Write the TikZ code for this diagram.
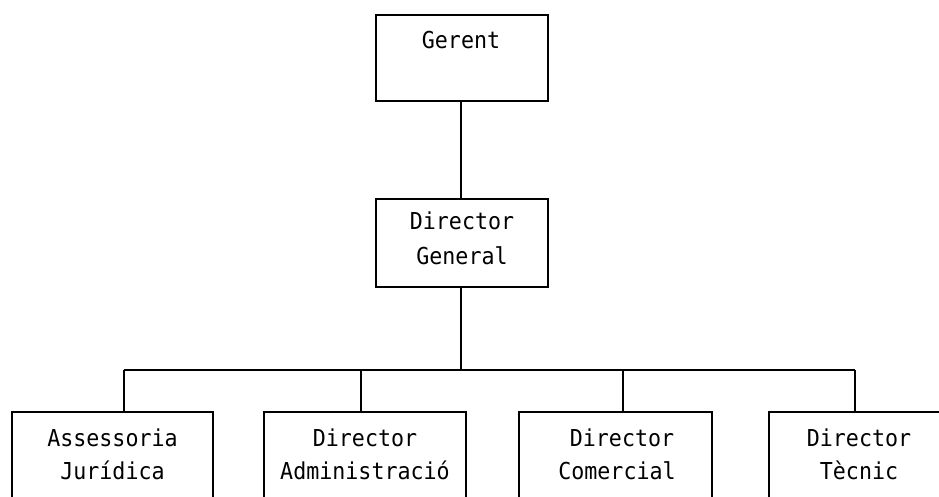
\documentclass[tikz,border=0pt]{standalone}
\usepackage{fontspec}
\usepackage{graphicx}
\setmonofont{DejaVu Sans Mono}
\newcommand{\boxtxt}[1]{\scalebox{0.93}[1]{#1}}
\begin{document}
\begin{tikzpicture}[x=1pt,y=-1pt,
  box/.style={draw=black,line width=1.8pt,rectangle,inner sep=0pt},
  lbl/.style={anchor=base,inner sep=0pt,font=\ttfamily\fontsize{23.3}{28}\selectfont},
  conn/.style={draw=black,line width=1.8pt}]
\useasboundingbox (0,0) rectangle (939,496);
\clip (0,0) rectangle (939,496);
\node[box,minimum width=172pt,minimum height=86pt] (G) at (462,58) {};
\node[box,minimum width=172pt,minimum height=88pt] (DG) at (462,243) {};
\node[box,minimum width=201pt,minimum height=128pt] (B1) at (112.5,476) {};
\node[box,minimum width=202pt,minimum height=128pt] (B2) at (365,476) {};
\node[box,minimum width=193pt,minimum height=128pt] (B3) at (615.5,476) {};
\node[box,minimum width=181pt,minimum height=128pt] (B4) at (859.5,476) {};
\node[lbl] (tG) at (461,48) {\boxtxt{Gerent}};
\node[lbl] (tDG1) at (462,229) {\boxtxt{Director}};
\node[lbl] (tDG2) at (462,264) {\boxtxt{General}};
\node[lbl] (tB1a) at (112.5,446) {\boxtxt{Assessoria}};
\node[lbl] (tB1b) at (112.5,479) {\boxtxt{Jurídica}};
\node[lbl] (tB2a) at (365,446) {\boxtxt{Director}};
\node[lbl] (tB2b) at (365,479) {\boxtxt{Administració}};
\node[lbl] (tB3a) at (622,446) {\boxtxt{Director}};
\node[lbl] (tB3b) at (617,479) {\boxtxt{Comercial}};
\node[lbl] (tB4a) at (859,446) {\boxtxt{Director}};
\node[lbl] (tB4b) at (859,479) {\boxtxt{Tècnic}};
\coordinate (bus) at (461,370);
\coordinate (b1) at (124,370);
\coordinate (b2) at (361,370);
\coordinate (b3) at (623,370);
\coordinate (b4) at (855,370);
\draw[conn] (G.south -| bus) -- (DG.north -| bus);
\draw[conn] (DG.south -| bus) -- (bus);
\draw[conn] (b1) -- (b4);
\draw[conn] (b1) -- (b1 |- B1.north);
\draw[conn] (b2) -- (b2 |- B2.north);
\draw[conn] (b3) -- (b3 |- B3.north);
\draw[conn] (b4) -- (b4 |- B4.north);
\end{tikzpicture}
\end{document}
